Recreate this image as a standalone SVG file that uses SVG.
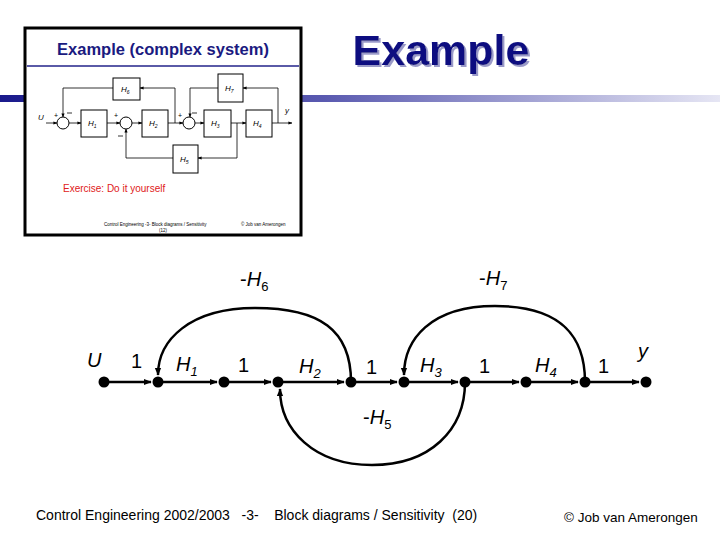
<svg xmlns="http://www.w3.org/2000/svg" width="720" height="540" viewBox="0 0 720 540">
<defs>
<linearGradient id="bar" x1="0" x2="1" y1="0" y2="0"><stop offset="0" stop-color="#1a1a8c"/><stop offset="0.45" stop-color="#5a5ab0"/><stop offset="1" stop-color="#e6e6f4"/></linearGradient>
<filter id="sh" x="-10%" y="-10%" width="130%" height="140%"><feDropShadow dx="2" dy="2" stdDeviation="0.5" flood-color="#9a9ac8" flood-opacity="1"/></filter>
<marker id="ar" viewBox="0 0 10 10" refX="9" refY="5" markerWidth="8" markerHeight="8" orient="auto" markerUnits="userSpaceOnUse"><path d="M0,1 L10,5 L0,9 z" fill="#000"/></marker>
<marker id="as" viewBox="0 0 10 10" refX="9" refY="5" markerWidth="4" markerHeight="4" orient="auto" markerUnits="userSpaceOnUse"><path d="M0,1 L10,5 L0,9 z" fill="#000"/></marker>
<style>
.e{stroke:#000;stroke-width:2.5;fill:none}
.n{fill:#000}
.l{font-family:"Liberation Sans",Arial,sans-serif;font-size:20px;fill:#000}
.i{font-style:italic}
.s{font-size:13px}
.b{stroke:#000;stroke-width:1;fill:#fff}
.w{stroke:#000;stroke-width:0.8;fill:none}
.t{font-family:"Liberation Sans",Arial,sans-serif;font-style:italic;font-size:8px}
.ts{font-size:5px}
</style>
</defs>
<rect width="720" height="540" fill="#fff"/>
<rect x="0" y="95" width="720" height="7" fill="url(#bar)"/>
<text x="441" y="65" text-anchor="middle" font-family="Liberation Sans,Arial,sans-serif" font-weight="bold" font-size="43" fill="#0f0f80" filter="url(#sh)">Example</text>
<g id="inset">
<rect x="25" y="28" width="276" height="207" fill="#fff" stroke="#000" stroke-width="3"/>
<text x="163" y="55" text-anchor="middle" font-family="Liberation Sans,Arial,sans-serif" font-weight="bold" font-size="16.5" fill="#1a1a80">Example (complex system)</text>
<line x1="27" y1="66" x2="299" y2="66" stroke="#23238a" stroke-width="1.5"/>
<g marker-end="url(#as)" class="w">
<path d="M46,123 H57"/><path d="M69,123 H81"/><path d="M107,123 H120"/><path d="M132,123 H142"/><path d="M168,123 H183"/><path d="M195,123 H204"/><path d="M231,123 H246"/><path d="M272,123 H292"/>
<path d="M175,123 V88 H140"/><path d="M113,88 H63 V117"/><path d="M278,123 V88 H243"/><path d="M218,88 H190 V117"/><path d="M237,123 V158 H198"/><path d="M173,158 H126 V129"/>
</g>
<circle class="b" cx="63" cy="123" r="6"/><circle class="b" cx="126" cy="123" r="6"/><circle class="b" cx="189" cy="123" r="6"/>
<rect class="b" x="113" y="78" width="27" height="22"/><rect class="b" x="218" y="74" width="25" height="28"/>
<rect class="b" x="81" y="110" width="26" height="27"/><rect class="b" x="142" y="110" width="26" height="27"/>
<rect class="b" x="204" y="110" width="27" height="27"/><rect class="b" x="246" y="110" width="26" height="27"/>
<rect class="b" x="173" y="145" width="25" height="28"/>
<text class="t" x="121" y="92">H<tspan class="ts" dy="2">6</tspan></text><text class="t" x="225" y="91">H<tspan class="ts" dy="2">7</tspan></text><text class="t" x="88" y="126">H<tspan class="ts" dy="2">1</tspan></text><text class="t" x="149" y="126">H<tspan class="ts" dy="2">2</tspan></text><text class="t" x="211" y="126">H<tspan class="ts" dy="2">3</tspan></text><text class="t" x="253" y="126">H<tspan class="ts" dy="2">4</tspan></text><text class="t" x="180" y="162">H<tspan class="ts" dy="2">5</tspan></text>
<text class="t" x="38" y="120" font-size="10">U</text><text class="t" x="285" y="113" font-size="9">y</text>
<text x="54" y="118" font-family="Liberation Sans,Arial,sans-serif" font-size="7">+</text><text x="114" y="118" font-family="Liberation Sans,Arial,sans-serif" font-size="7">+</text><text x="178" y="118" font-family="Liberation Sans,Arial,sans-serif" font-size="7">+</text>
<path class="w" d="M67,113 h5 M192,113 h5 M118,136 h5"/>
<text x="63" y="192" font-family="Liberation Sans,Arial,sans-serif" font-size="10" fill="#e02020">Exercise: Do it yourself</text>
<text x="104" y="226" font-family="Liberation Sans,Arial,sans-serif" font-size="4.5">Control Engineering -3-    Block diagrams / Sensitivity</text>
<text x="241" y="226" font-family="Liberation Sans,Arial,sans-serif" font-size="4.5">© Job van Amerongen</text>
<text x="163" y="232" text-anchor="middle" font-family="Liberation Sans,Arial,sans-serif" font-size="4.5">(12)</text>
</g>
<g id="connectors" class="e" marker-end="url(#ar)">
<path d="M104,382 H151"/><path d="M158,382 H217"/><path d="M224,382 H271"/><path d="M278,382 H344"/><path d="M351,382 H397"/><path d="M404,382 H458"/><path d="M465,382 H519"/><path d="M526,382 H578"/><path d="M585,382 H639"/>
<path d="M351,382 C351,330 320,308 255,308 C190,308 158,340 158,375"/>
<path d="M585,382 C585,335 560,306 495,306 C430,306 404,340 404,375"/>
<path d="M465,382 C465,430 430,465 372,465 C314,465 280,430 280,389"/>
</g>
<g id="nodes">
<circle class="n" cx="104" cy="382" r="5.5"/><circle class="n" cx="158" cy="382" r="5.5"/><circle class="n" cx="224" cy="382" r="5.5"/><circle class="n" cx="278" cy="382" r="5.5"/><circle class="n" cx="351" cy="382" r="5.5"/><circle class="n" cx="404" cy="382" r="5.5"/><circle class="n" cx="465" cy="382" r="5.5"/><circle class="n" cx="526" cy="382" r="5.5"/><circle class="n" cx="585" cy="382" r="5.5"/><circle class="n" cx="646" cy="382" r="5.5"/>
</g>
<g id="labels">
<text class="l i" x="87" y="367">U</text>
<text class="l" x="131" y="368">1</text><text class="l" x="238" y="372">1</text><text class="l" x="366" y="374">1</text><text class="l" x="479" y="373">1</text><text class="l" x="598" y="373">1</text>
<text class="l i" x="176" y="371">H<tspan class="s" dy="5">1</tspan></text>
<text class="l i" x="299" y="373">H<tspan class="s" dy="5">2</tspan></text>
<text class="l i" x="420" y="372">H<tspan class="s" dy="5">3</tspan></text>
<text class="l i" x="535" y="372">H<tspan class="s" dy="5">4</tspan></text>
<text class="l i" x="638" y="358">y</text>
<text class="l" x="240" y="286">-<tspan class="i">H</tspan><tspan class="s" dy="5">6</tspan></text>
<text class="l" x="479" y="285">-<tspan class="i">H</tspan><tspan class="s" dy="5">7</tspan></text>
<text class="l" x="363" y="424">-<tspan class="i">H</tspan><tspan class="s" dy="5">5</tspan></text>
</g>
<text x="36" y="520" font-family="Liberation Sans,Arial,sans-serif" font-size="14" xml:space="preserve">Control Engineering 2002/2003   -3-    Block diagrams / Sensitivity  (20)</text>
<text x="564" y="522" font-family="Liberation Sans,Arial,sans-serif" font-size="13.5">© Job van Amerongen</text>
</svg>
